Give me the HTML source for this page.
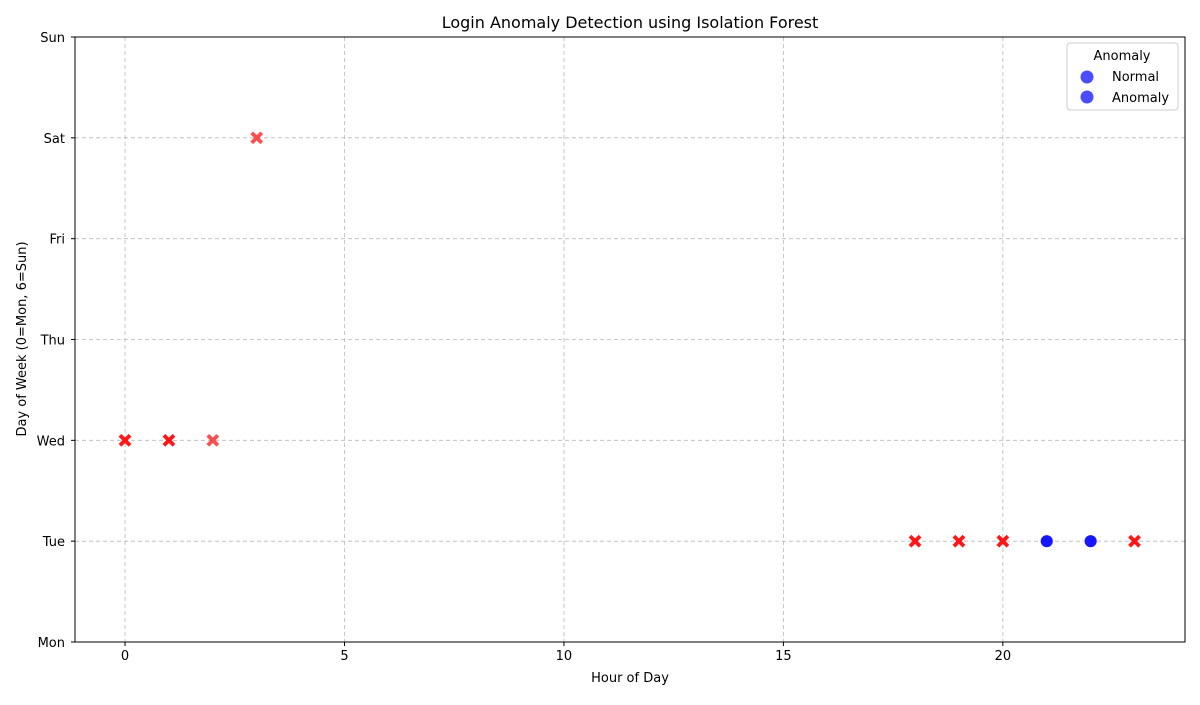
<!DOCTYPE html>
<html><head><meta charset="utf-8"><style>
body{margin:0;background:#fff;font-family:"Liberation Sans","DejaVu Sans",sans-serif;}
svg text{font-family:"DejaVu Sans","Liberation Sans",sans-serif;}
</style></head><body>
<svg id="chart" width="1200" height="700" xmlns="http://www.w3.org/2000/svg">
<text x="630" y="28" text-anchor="middle" font-size="16">Login Anomaly Detection using Isolation Forest</text>
<g id="grid"></g>
<g id="axes"></g>
<g id="marks"></g>
<text x="630" y="682" text-anchor="middle" font-size="13">Hour of Day</text>
<text transform="translate(26,339) rotate(-90)" text-anchor="middle" font-size="13">Day of Week (0=Mon, 6=Sun)</text>
<g>
<rect x="1067" y="43" width="111" height="67" rx="3" fill="#fff" stroke="#ccc"/>
<text x="1122" y="60" text-anchor="middle" font-size="13">Anomaly</text>
<circle cx="1087" cy="77" r="6.5" fill="#0000ff" fill-opacity="0.7"/>
<text x="1112" y="81" font-size="13">Normal</text>
<circle cx="1087" cy="97" r="6.5" fill="#0000ff" fill-opacity="0.7"/>
<text x="1112" y="102" font-size="13">Anomaly</text>
</g>
</svg>
<script>
const hours = [0,0,1,1,2,3,18,18,19,19,20,20,21,21,22,22,23,23];
const days  = [2,2,2,2,2,5,1,1,1,1,1,1,1,1,1,1,1,1];
const isAnomaly = [1,1,1,1,1,1,1,1,1,1,1,1,0,0,0,0,1,1];
const xTicks = [0,5,10,15,20];
const dayLabels = ["Mon","Tue","Wed","Thu","Fri","Sat","Sun"];
const L=75,R=1185,T=37,B=642, xMin=-1.14, xMax=24.15, yMin=0, yMax=6;
const sx=v=>L+(v-xMin)/(xMax-xMin)*(R-L);
const sy=v=>B-(v-yMin)/(yMax-yMin)*(B-T);
const NS="http://www.w3.org/2000/svg";
function mk(tag,attrs,parent){const e=document.createElementNS(NS,tag);for(const k in attrs)e.setAttribute(k,attrs[k]);parent.appendChild(e);return e;}
const grid=document.getElementById('grid'),axes=document.getElementById('axes'),marks=document.getElementById('marks');
xTicks.forEach(t=>{const x=sx(t);
 const g=mk('line',{x1:x,x2:x,y1:T,y2:B,stroke:'#b0b0b0','stroke-width':0.8,'stroke-dasharray':'4,3','stroke-opacity':0.9},grid);
 
 
 mk('line',{x1:x,x2:x,y1:B,y2:B+4,stroke:'#000'},axes);
 const tx=mk('text',{x:x,y:B+18,'text-anchor':'middle','font-size':13},axes);tx.textContent=t;
 
 
});
dayLabels.forEach((d,i)=>{const y=sy(i);
 const g=mk('line',{x1:L,x2:R,y1:y,y2:y,stroke:'#b0b0b0','stroke-width':0.8,'stroke-dasharray':'4,3','stroke-opacity':0.9},grid);
 
 
 mk('line',{x1:L-4,x2:L,y1:y,y2:y,stroke:'#000'},axes);
 const tx=mk('text',{x:L-10,y:y+5,'text-anchor':'end','font-size':13},axes);tx.textContent=d;
 
 
});
mk('rect',{x:L,y:T,width:R-L,height:B-T,fill:'none',stroke:'#000','stroke-width':1},axes);
hours.forEach((h,i)=>{const x=sx(h),y=sy(days[i]);let e;
 if(isAnomaly[i]){
  e=mk('path',{d:`M${x-5},${y-5}L${x+5},${y+5}M${x+5},${y-5}L${x-5},${y+5}`,stroke:'#ff0000','stroke-width':3.8,'stroke-opacity':0.7,fill:'none'},marks);
  
 } else {
  e=mk('circle',{cx:x,cy:y,r:6.5,fill:'#0000ff','fill-opacity':0.7,stroke:'#fff','stroke-width':0.8},marks);
  
 }
 
});
</script>
</body></html>
